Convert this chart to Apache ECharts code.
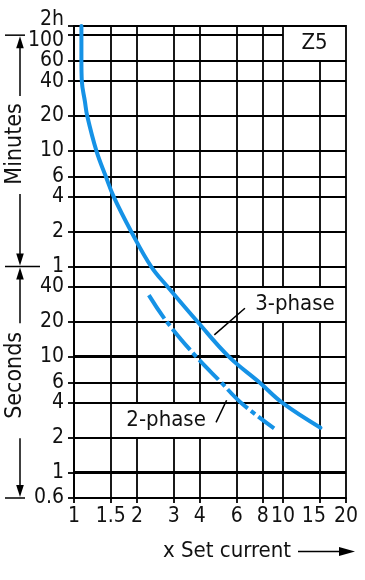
<!DOCTYPE html>
<html><head><meta charset="utf-8">
<script src="https://cdn.jsdelivr.net/npm/echarts@6/dist/echarts.min.js"></script>
<style>html,body{margin:0;padding:0;background:#fff}#c{width:365px;height:580px}</style>
</head><body><div id="c"></div>
<script>
// ---------- data ----------
const xTicks = [1, 1.5, 2, 3, 4, 6, 8, 10, 15, 20];           // multiples of set current
const xTickLabels = ['1', '1.5', '2', '3', '4', '6', '8', '10', '15', '20'];
const yTicks = [0.6, 1, 2, 4, 6, 10, 20, 40, 60, 120, 240, 360, 600, 1200, 2400, 3600, 6000, 7200]; // seconds
const yTickLabels = ['0.6', '1', '2', '4', '6', '10', '20', '40', '1', '2', '4', '6', '10', '20', '40', '60', '100', '2h'];
const threePhaseX = [1.085, 1.085, 1.09, 1.128, 1.157, 1.28, 1.42, 1.55, 1.88, 2.34, 2.81, 3.9, 5.5, 7.7, 9.9, 15.1];
const threePhaseT = [7200, 3600, 2400, 1600, 1200, 600, 360, 240, 120, 60, 40, 20, 10, 6, 4, 2.43];
const twoPhaseX = [2.28, 2.78, 3.84, 5.05, 6.29, 9.06];
const twoPhaseT = [34, 20, 10, 6, 4, 2.4];
const seriesNames = ['3-phase', '2-phase'];
const tagText = 'Z5';
const xName = 'x Set current';
const yNameUpper = 'Minutes';
const yNameLower = 'Seconds';

// ---------- layout / style ----------
const FONT = '"DejaVu Sans Condensed", "Liberation Sans Narrow", sans-serif';
const INK = '#000';
const BLUE = '#1592e6';
const xMin = 1, xMax = 20, yMin = 0.6, yMax = 7200;
// the crowded top labels are placed by hand (offset from their ticks)
const shiftedY = { 7200: -6, 6000: 5, 3600: 0 };
// label boxes (in data space) where the grid is left blank
const boxes = [
  { x: [10, 20], y: [3600, 7200] },
  { x: [7, 20], y: [20, 40] },
  { x: [1.5, 6], y: [2, 4] }
];

function segments(start, end, cuts) {
  cuts.sort((p, q) => p[0] - q[0]);
  const out = []; let s = start;
  for (const [a, b] of cuts) { if (a > s) out.push([s, a]); s = Math.max(s, b); }
  if (s < end) out.push([s, end]);
  return out;
}
const gridData = [];
xTicks.forEach(v => {
  if (v === xMin || v === xMax) return;
  const cuts = boxes.filter(b => v > b.x[0] && v < b.x[1]).map(b => b.y.slice());
  segments(yMin, yMax, cuts).forEach(([a, b]) => gridData.push([{ coord: [v, a] }, { coord: [v, b] }]));
});
yTicks.forEach(v => {
  if (v === yMin || v === yMax) return;
  const cuts = boxes.filter(b => v > b.y[0] && v < b.y[1]).map(b => b.x.slice());
  segments(xMin, xMax, cuts).forEach(([a, b]) => gridData.push([{ coord: [a, v] }, { coord: [b, v] }]));
});
const thickData = [
  [{ coord: [xMin, 1] }, { coord: [xMax, 1] }],
  [{ coord: [xMin, 10] }, { coord: [6.2, 10] }]
];
const leaderData = [
  [{ coord: [6.57, 26.2] }, { coord: [4.69, 15.4] }],
  [{ coord: [4.78, 2.7] }, { coord: [5.37, 4.2] }]
];

function lookup(ticks, labels, v) {
  const i = ticks.findIndex(t => Math.abs(t - v) / t < 1e-6);
  return i < 0 ? '' : labels[i];
}
function markSeries(data, width, z) {
  return {
    type: 'line', data: [], z: z, silent: true, animation: false,
    markLine: {
      silent: true, animation: false, symbol: ['none', 'none'],
      label: { show: false }, emphasis: { disabled: true },
      lineStyle: { color: INK, width: width, type: 'solid' },
      data: data
    }
  };
}
const LBL = { fontFamily: FONT, fontSize: 21, color: '#111' };

const chart = echarts.init(document.getElementById('c'), null, { renderer: 'canvas' });
chart.setOption({
  animation: false,
  backgroundColor: '#fff',
  grid: { left: 74, right: 19, top: 26, bottom: 82, show: true, borderColor: INK, borderWidth: 1.8, backgroundColor: 'transparent' },
  xAxis: {
    type: 'log', logBase: 10, min: xMin, max: xMax,
    splitLine: { show: false }, minorTick: { show: false }, minorSplitLine: { show: false },
    axisLine: { show: true, lineStyle: { color: INK, width: 1.8 } },
    axisTick: { show: true, customValues: xTicks, length: 5, lineStyle: { color: INK, width: 1.8 } },
    axisLabel: Object.assign({
      customValues: xTicks, margin: 8,
      showMinLabel: true, showMaxLabel: true, hideOverlap: false,
      formatter: v => {
        const s = lookup(xTicks, xTickLabels, v);
        return s === '15' ? '{l|15}' : s;
      },
      rich: { l: Object.assign({ padding: [0, 12, 0, 0] }, LBL) }
    }, LBL)
  },
  yAxis: {
    type: 'log', logBase: 10, min: yMin, max: yMax,
    splitLine: { show: false }, minorTick: { show: false }, minorSplitLine: { show: false },
    axisLine: { show: true, lineStyle: { color: INK, width: 1.8 } },
    axisTick: { show: true, customValues: yTicks, length: 6, lineStyle: { color: INK, width: 1.8 } },
    axisLabel: Object.assign({
      customValues: yTicks.filter(v => !(v in shiftedY)), margin: 10, lineHeight: 14,
      showMinLabel: true, showMaxLabel: true, hideOverlap: false,
      formatter: v => lookup(yTicks, yTickLabels, v)
    }, LBL)
  },
  series: [
    markSeries(gridData, 1.8, 1),
    markSeries(thickData, 3.2, 2),
    markSeries(leaderData, 1.5, 3),
    {
      name: seriesNames[0], type: 'line', z: 5, smooth: 0.4,
      showSymbol: false, symbol: 'none', silent: true,
      lineStyle: { color: BLUE, width: 4, cap: 'round' },
      data: threePhaseX.map((x, i) => [x, threePhaseT[i]])
    },
    {
      name: seriesNames[1], type: 'line', z: 5, smooth: 0.4,
      showSymbol: false, symbol: 'none', silent: true,
      lineStyle: { color: BLUE, width: 4, type: [28, 4, 5, 4], cap: 'butt' },
      data: twoPhaseX.map((x, i) => [x, twoPhaseT[i]])
    }
  ]
});

// ---------- annotations ----------
const px = (x, y) => chart.convertToPixel({ xAxisIndex: 0, yAxisIndex: 0 }, [x, y]);
const txt = (text, x, y, opts) => Object.assign({
  type: 'text', x: x, y: y, z: 100,
  style: Object.assign({ text: text, fill: '#111', font: '23px ' + FONT, textAlign: 'left', textVerticalAlign: 'middle' }, opts || {})
});
const line = (x1, y1, x2, y2, w) => ({ type: 'line', z: 100, shape: { x1, y1, x2, y2 }, style: { stroke: INK, lineWidth: w || 1.5 } });
const tri = (pts) => ({ type: 'polygon', z: 100, shape: { points: pts }, style: { fill: INK } });

const z5 = px(Math.sqrt(10 * 20), Math.sqrt(3600 * 7200));
const p3 = px(7.36, Math.sqrt(20 * 40));
const p2 = px(1.78, Math.sqrt(2 * 4));
const yTop = px(1, 6000)[1], yMid = px(1, 60)[1], yBot = px(1, yMin)[1];
const xAxisPx = px(xMin, yMin)[0];
const ax = 20;
const minC = yTop + (yMid - yTop) * 0.47;
const secC = yMid + (yBot - yMid) * 0.47;
const half = 43;

const g = [
  txt(tagText, z5[0], z5[1], { textAlign: 'center', font: '22px ' + FONT }),
  txt(seriesNames[0], p3[0], p3[1], { font: '22px ' + FONT }),
  txt(seriesNames[1], p2[0], p2[1], { font: '22px ' + FONT }),
  // rotated axis names
  Object.assign(txt(yNameUpper, 0, 0, { textAlign: 'center' }), { x: 15, y: minC, rotation: Math.PI / 2 }),
  Object.assign(txt(yNameLower, 0, 0, { textAlign: 'center' }), { x: 15, y: secC, rotation: Math.PI / 2 }),
  // minutes arrows
  line(5, yTop, 25, yTop),
  line(ax, minC - half - 5, ax, yTop + 10),
  tri([[ax, yTop + 1], [ax - 3.8, yTop + 13], [ax + 3.8, yTop + 13]]),
  line(ax, minC + half + 7, ax, yMid - 10),
  tri([[ax, yMid - 1], [ax - 3.8, yMid - 13], [ax + 3.8, yMid - 13]]),
  line(5, yMid, 40, yMid),
  // seconds arrows
  line(ax, secC - half - 9, ax, yMid + 10),
  tri([[ax, yMid + 1], [ax - 3.8, yMid + 13], [ax + 3.8, yMid + 13]]),
  line(ax, secC + half + 20, ax, yBot - 10),
  tri([[ax, yBot - 1], [ax - 3.8, yBot - 13], [ax + 3.8, yBot - 13]]),
  line(5, yBot, 25, yBot),
  // x name + arrow
  txt(xName, 163, 551, { font: '22px ' + FONT }),
  line(298, 551.5, 342, 551.5),
  tri([[355, 551.5], [339, 547], [339, 556]])
];
// the crowded top tick labels (2h / 100 / 60), anchored to their tick values
Object.keys(shiftedY).forEach(k => {
  const v = Number(k);
  g.push(txt(lookup(yTicks, yTickLabels, v), xAxisPx - 10, px(xMin, v)[1] + shiftedY[k],
    { textAlign: 'right', font: '21px ' + FONT }));
});
chart.setOption({ graphic: g });
</script>
</body></html>
